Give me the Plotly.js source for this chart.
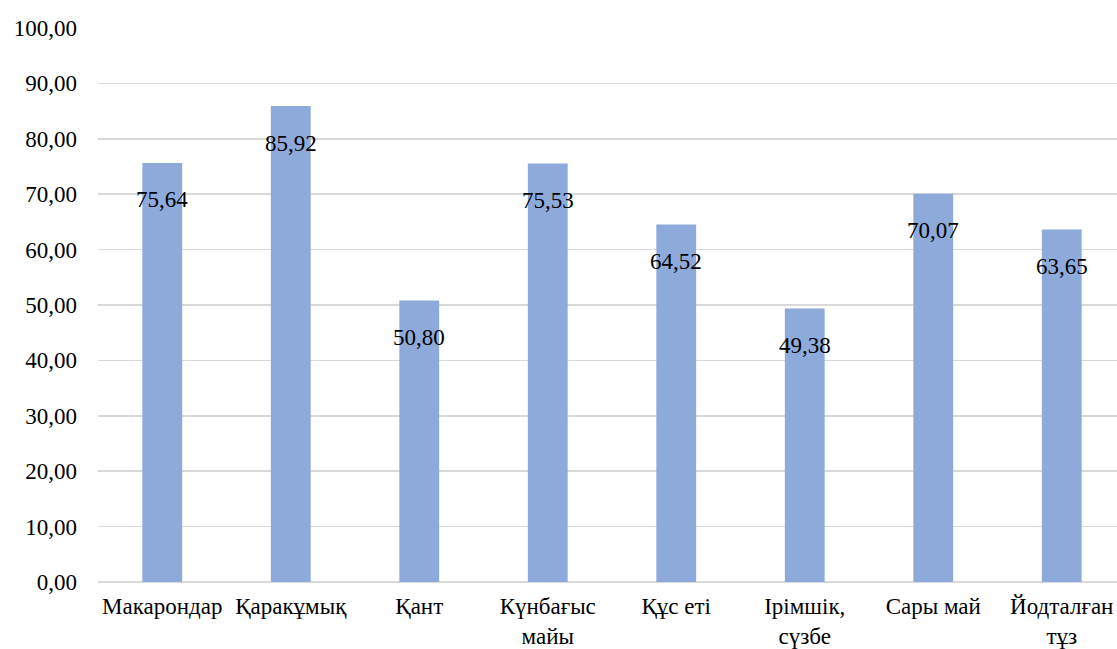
<!DOCTYPE html>
<html>
<head>
<meta charset="utf-8">
<script src="https://cdn.plot.ly/plotly-3.0.1.min.js"></script>
<style>html,body{margin:0;padding:0;background:#fff;}#chart{width:1117px;height:649px;}</style>
</head>
<body>
<div id="chart"></div>
<script>
const categories = ["Макарондар", "Қаракұмық", "Қант", "Күнбағыс<br>майы", "Құс еті", "Ірімшік,<br>сүзбе", "Сары май", "Йодталған<br>тұз"];
const values = [75.64, 85.92, 50.80, 75.53, 64.52, 49.38, 70.07, 63.65];
const yTicks = [0, 10, 20, 30, 40, 50, 60, 70, 80, 90, 100];

const fontFam = "Times New Roman, Liberation Serif, DejaVu Serif, serif";

const trace = {
  type: 'bar',
  x: categories,
  y: values,
  width: 0.31,
  marker: {color: '#8eaadb'},
  hoverinfo: 'skip'
};

const annotations = values.map((v, i) => ({
  x: categories[i], y: v, xref: 'x', yref: 'y',
  text: v.toFixed(2).replace('.', ','),
  showarrow: false, yshift: -37,
  font: {family: fontFam, size: 23, color: '#000'}
}));

const layout = {
  width: 1117, height: 649,
  margin: {l: 98, r: 0, t: 28, b: 67},
  paper_bgcolor: '#fff', plot_bgcolor: '#fff',
  separators: ', ',
  showlegend: false,
  font: {family: fontFam, size: 23, color: '#000'},
  xaxis: {
    type: 'category',
    range: [-0.5, 7.43],
    showgrid: false, showline: false, ticks: '',
    ticklabelstandoff: 8,
    tickfont: {family: fontFam, size: 23, color: '#000'}
  },
  yaxis: {
    range: [0, 100],
    tickvals: yTicks,
    tickformat: '.2f',
    showgrid: true, gridcolor: '#d9d9d9', gridwidth: 1.5,
    zeroline: true, zerolinecolor: '#d9d9d9', zerolinewidth: 1.5,
    showline: false, ticks: '',
    ticklabelstandoff: 20,
    tickfont: {family: fontFam, size: 23, color: '#000'}
  },
  annotations: annotations
};

Plotly.newPlot('chart', [trace], layout, {displayModeBar: false, staticPlot: true});
</script>
</body>
</html>
